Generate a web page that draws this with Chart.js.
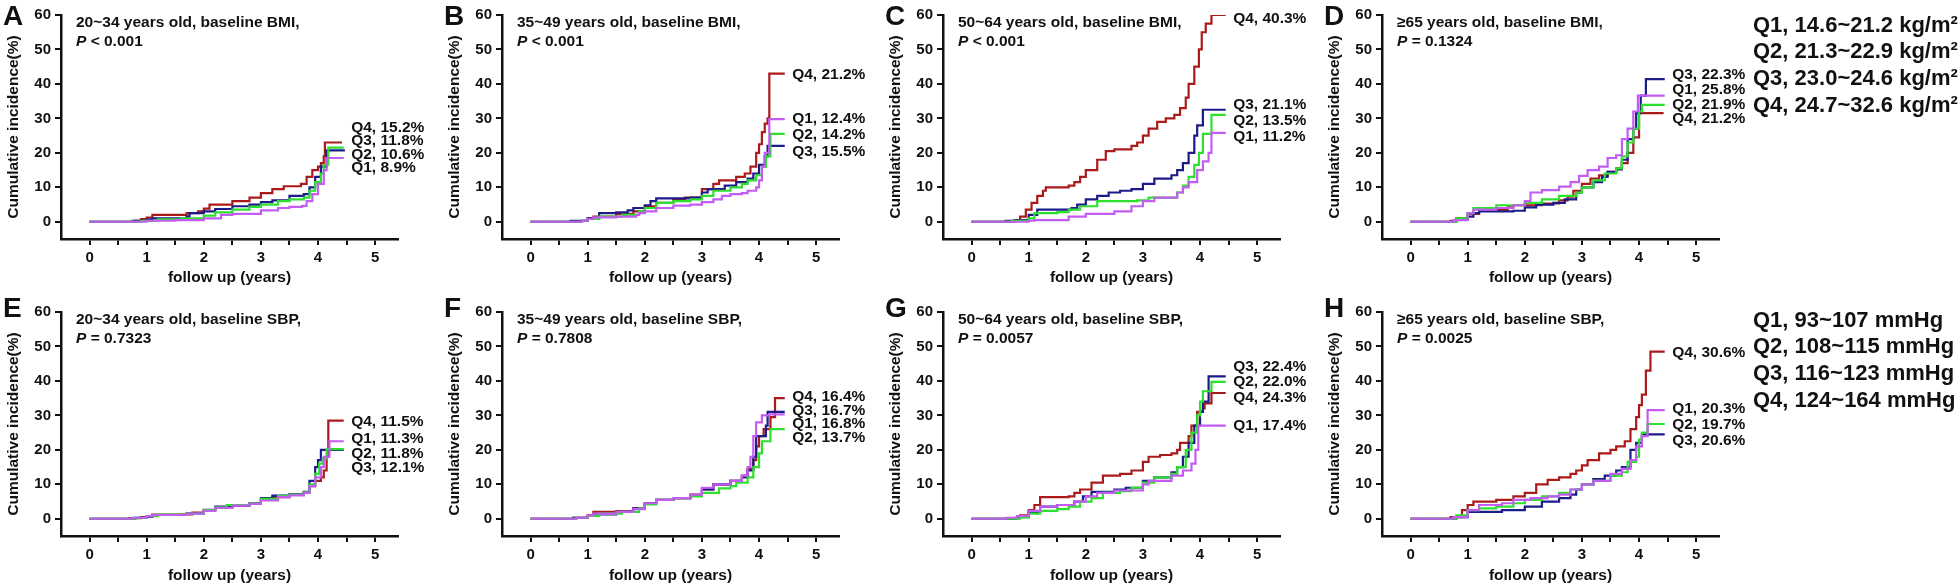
<!DOCTYPE html>
<html>
<head>
<meta charset="utf-8">
<title>Cumulative incidence by age group, baseline BMI and SBP</title>
<script src="https://cdn.jsdelivr.net/npm/chart.js@4.4.1/dist/chart.umd.min.js"></script>
<style>
  body { margin: 0; background: #fff; width: 1960px; height: 588px; position: relative; overflow: hidden; font-family: "Liberation Sans", Arial, sans-serif; }
  canvas { position: absolute; }
  .legend { position: absolute; left: 1753px; font-weight: bold; font-size: 22px; line-height: 26.7px; color: #111; white-space: nowrap; }
</style>
</head>
<body>
<script>
// ---- data ----
const quartiles = ['Q1', 'Q2', 'Q3', 'Q4'];
const xTickValues = [0, 0.5, 1, 1.5, 2, 2.5, 3, 3.5, 4, 4.5, 5];
const yTickValues = [0, 10, 20, 30, 40, 50, 60];

const panelLetters = ['A', 'B', 'C', 'D', 'E', 'F', 'G', 'H'];
const panelTitles = [
  '20~34 years old, baseline BMI,', '35~49 years old, baseline BMI,',
  '50~64 years old, baseline BMI,', '\u226565 years old, baseline BMI,',
  '20~34 years old, baseline SBP,', '35~49 years old, baseline SBP,',
  '50~64 years old, baseline SBP,', '\u226565 years old, baseline SBP,'
];
const pValues = ['< 0.001', '< 0.001', '< 0.001', '= 0.1324', '= 0.7323', '= 0.7808', '= 0.0057', '= 0.0025'];

const bmiRanges = ['14.6~21.2 kg/m\u00b2', '21.3~22.9 kg/m\u00b2', '23.0~24.6 kg/m\u00b2', '24.7~32.6 kg/m\u00b2'];
const sbpRanges = ['93~107 mmHg', '108~115 mmHg', '116~123 mmHg', '124~164 mmHg'];

// curves: [years, cumulative incidence %]
const A_Q1 = [[0,0],[1.0,0.3],[1.5,0.5],[2.0,1],[2.3,2],[2.5,2.3],[3.0,3.3],[3.3,4],[3.5,4.3],[3.72,4.6],[3.8,6],[3.9,8],[4.0,11],[4.1,15],[4.15,18.5],[4.45,18.5]];
const A_Q2 = [[0,0],[0.9,0.3],[1.2,0.7],[1.6,1],[2.0,1.8],[2.2,2.7],[2.5,3.5],[2.8,4.3],[3.0,5],[3.3,6],[3.5,6.5],[3.75,7],[3.85,9],[3.95,11.5],[4.05,14],[4.1,16.5],[4.18,21.5],[4.45,21.5]];
const A_Q3 = [[0,0],[0.8,0.3],[1.0,0.6],[1.1,1],[1.7,1.5],[1.75,2.5],[2.0,3],[2.2,3.7],[2.5,4.5],[2.8,5],[3.0,5.7],[3.2,6.2],[3.5,7.5],[3.75,8],[3.85,10],[3.95,13],[4.05,16],[4.15,20.7],[4.47,20.7]];
const A_Q4 = [[0,0],[0.75,0.3],[0.9,0.8],[1.0,1.2],[1.1,2],[1.7,2.5],[1.9,3],[2.0,3.8],[2.1,5],[2.5,6],[2.8,7],[3.0,8.3],[3.2,9.5],[3.4,10.3],[3.7,11],[3.8,13],[3.9,15],[4.0,16],[4.05,17],[4.1,19],[4.12,23],[4.42,23]];

const B_Q1 = [[0,0],[0.9,0.3],[1.0,0.8],[1.1,1.3],[1.5,1.5],[1.85,2],[1.9,2.5],[2.0,3],[2.2,4],[2.5,4.7],[2.8,5],[3.0,5.7],[3.2,6.5],[3.35,7.5],[3.5,8],[3.7,8.3],[3.8,9],[3.95,10],[4.0,12],[4.05,16],[4.1,20],[4.18,29.8],[4.45,29.8]];
const B_Q2 = [[0,0],[0.9,0.3],[1.0,0.8],[1.2,1.5],[1.6,2],[1.9,3],[2.0,4],[2.2,5.5],[2.5,6],[2.8,6.5],[3.0,7.5],[3.2,9],[3.5,10],[3.7,11],[3.8,12],[3.95,13.5],[4.05,16],[4.12,19],[4.2,25.5],[4.45,25.5]];
const B_Q3 = [[0,0],[0.7,0.3],[1.0,1],[1.2,2.5],[1.5,2.7],[1.7,3.3],[1.8,4],[2.0,4.8],[2.1,6],[2.2,6.8],[2.8,7],[3.0,8.5],[3.1,9.5],[3.4,10.5],[3.6,11.5],[3.8,12.5],[3.9,14],[4.0,16.5],[4.1,19],[4.15,22],[4.45,22]];
const B_Q4 = [[0,0],[0.9,0.3],[1.0,1],[1.1,1.5],[1.5,2.3],[1.8,3],[2.0,4.5],[2.2,5.5],[2.5,6.5],[2.7,7],[3.0,9.5],[3.2,11],[3.3,12],[3.6,13],[3.75,14],[3.85,16],[3.95,20],[4.0,22.5],[4.05,26],[4.1,28.5],[4.15,30],[4.18,43],[4.45,43]];

const C_Q1 = [[0,0],[1.0,0.3],[1.1,0.5],[1.7,1.5],[2.0,2.3],[2.5,3],[2.8,4.5],[3.0,6],[3.2,7],[3.6,8.5],[3.7,10],[3.8,11.5],[3.95,15],[4.05,17.5],[4.15,20],[4.2,25.8],[4.45,25.8]];
const C_Q2 = [[0,0],[0.7,0.3],[1.0,1],[1.1,2.5],[1.5,2.8],[1.7,3.5],[1.9,4.5],[2.2,6],[2.9,6.2],[3.1,7],[3.6,8.5],[3.7,10.5],[3.8,13],[3.9,16.5],[3.98,20],[4.05,25.5],[4.2,31],[4.45,31]];
const C_Q3 = [[0,0],[0.6,0.3],[0.8,0.5],[1.0,2],[1.15,3.5],[1.75,4],[1.85,5],[2.0,6.5],[2.2,7.5],[2.4,8.5],[2.6,9],[2.8,9.5],[3.0,11],[3.2,12.5],[3.5,13.5],[3.6,15],[3.7,17],[3.8,20],[3.9,25],[3.95,28],[4.05,32.5],[4.45,32.5]];
const C_Q4 = [[0,0],[0.75,0.5],[0.85,1.5],[0.95,3.5],[1.05,5.5],[1.15,7.5],[1.25,9],[1.3,10],[1.7,10.5],[1.8,11.5],[1.9,13],[2.0,15],[2.2,18],[2.35,20.5],[2.5,21],[2.8,22],[2.9,23],[3.0,25],[3.1,27],[3.25,29],[3.4,30],[3.55,31],[3.65,33],[3.75,36],[3.8,40],[3.9,45],[3.98,50],[4.03,55],[4.1,57.5],[4.2,60],[4.45,60]];

const D_Q1 = [[0,0],[0.75,0.5],[1.0,2.5],[1.1,3.5],[1.5,4],[1.8,4.8],[2.0,6],[2.1,8.5],[2.3,9.2],[2.6,10.2],[2.8,11.5],[2.95,13.3],[3.1,15],[3.3,16],[3.45,18.5],[3.6,19.3],[3.7,24],[3.8,27],[3.9,32],[3.98,36.6],[4.45,36.6]];
const D_Q2 = [[0,0],[0.8,1],[1.0,2.5],[1.1,4],[1.5,4.8],[2.0,5.5],[2.3,6.5],[2.6,7.5],[2.9,8.5],[3.0,10],[3.2,12],[3.4,14],[3.6,15.5],[3.7,19],[3.8,23],[3.9,27],[4.0,32],[4.05,33.9],[4.45,33.9]];
const D_Q3 = [[0,0],[0.8,0.8],[1.0,1.5],[1.1,2.5],[1.2,3],[1.8,3.2],[2.0,4.2],[2.2,5],[2.5,5.5],[2.7,6.5],[2.9,8.5],[3.0,10],[3.2,11.5],[3.35,13],[3.45,14.5],[3.6,15.2],[3.7,18],[3.8,24],[3.9,27],[3.95,31.5],[4.03,36.6],[4.12,41.4],[4.45,41.4]];
const D_Q4 = [[0,0],[0.7,0.3],[0.8,1],[1.0,2.3],[1.2,3.5],[1.7,4.2],[1.8,4.8],[2.3,5.3],[2.6,6.2],[2.75,7.3],[2.85,9],[3.0,11],[3.15,12.5],[3.3,13.5],[3.45,14.5],[3.6,15.5],[3.7,17],[3.8,20],[3.9,24.5],[4.0,31.5],[4.43,31.5]];

const E_Q1 = [[0,0],[0.75,0.3],[1.0,0.8],[1.1,1.1],[1.7,1.5],[2.0,2.3],[2.2,3.2],[2.5,3.8],[2.8,4.3],[3.0,5.3],[3.3,6.3],[3.5,6.8],[3.75,7.5],[3.85,9.5],[3.95,12],[4.05,15],[4.1,18],[4.2,22.5],[4.45,22.5]];
const E_Q2 = [[0,0],[0.8,0.3],[1.0,0.8],[1.2,1.2],[1.7,1.5],[2.0,2.5],[2.2,3.3],[2.4,4],[2.8,4.5],[3.0,5.8],[3.3,6.6],[3.5,7],[3.75,7.7],[3.85,10],[3.95,13],[4.02,16],[4.08,17.5],[4.15,20.2],[4.45,20.2]];
const E_Q3 = [[0,0],[0.8,0.3],[1.0,0.6],[1.1,1.1],[1.7,1.6],[2.0,2.6],[2.2,3.5],[2.5,3.9],[2.8,4.5],[3.0,6],[3.2,6.7],[3.5,7.1],[3.75,7.8],[3.85,11],[3.95,15],[4.0,17],[4.05,20],[4.45,20]];
const E_Q4 = [[0,0],[0.7,0.2],[0.9,0.5],[1.0,0.8],[1.1,1.2],[1.6,1.3],[1.8,1.8],[2.0,2.5],[2.2,3.3],[2.5,3.8],[2.8,4.5],[3.0,5.5],[3.2,6.3],[3.5,7],[3.75,7.5],[3.85,9.5],[3.95,11],[4.05,12],[4.1,14],[4.15,18],[4.18,28.5],[4.45,28.5]];

const F_Q1 = [[0,0],[0.8,0.3],[1.0,1],[1.1,1.5],[1.5,2],[1.8,2.8],[2.0,4.5],[2.2,5.5],[2.5,6],[2.8,7],[3.0,9],[3.2,10],[3.5,11],[3.7,12.5],[3.8,15],[3.85,18],[3.9,24],[3.95,28],[4.05,30],[4.18,30.3],[4.45,30.3]];
const F_Q2 = [[0,0],[0.8,0.3],[1.0,0.8],[1.2,1.5],[1.6,2],[1.9,3],[2.0,4.2],[2.2,5.5],[2.5,6],[2.8,6.5],[3.0,7.5],[3.3,8.8],[3.5,9.5],[3.6,10.5],[3.8,12],[3.9,15],[4.0,19],[4.05,22.5],[4.2,26],[4.45,26]];
const F_Q3 = [[0,0],[0.75,0.3],[1.0,0.8],[1.1,1.3],[1.5,2],[1.8,3],[2.0,4.5],[2.2,5.5],[2.5,6],[2.8,6.8],[3.0,8.5],[3.2,10],[3.5,11],[3.7,12],[3.8,14],[3.9,18],[3.95,24],[4.08,24],[4.12,27],[4.15,31],[4.45,31]];
const F_Q4 = [[0,0],[0.75,0.3],[1.0,1],[1.1,2],[1.5,2.2],[1.8,3],[2.0,4.5],[2.2,5.5],[2.5,6],[2.8,7],[3.0,8.5],[3.2,10],[3.5,11],[3.7,12.5],[3.8,14.5],[3.9,17],[3.95,21],[4.0,24],[4.08,26],[4.2,29.5],[4.28,35],[4.45,35]];

const G_Q1 = [[0,0],[0.6,0.3],[0.8,0.8],[1.0,2.3],[1.2,3.5],[1.5,4],[1.8,5],[2.0,6.5],[2.2,7.5],[2.5,8.2],[3.0,10],[3.1,11],[3.5,12.5],[3.7,14],[3.85,16],[3.92,20],[3.97,27],[4.45,27]];
const G_Q2 = [[0,0],[0.85,0.5],[1.0,1.5],[1.2,2.3],[1.5,2.8],[1.7,3.5],[1.9,5],[2.1,6],[2.3,7.5],[2.6,8],[2.8,9],[3.0,10.5],[3.2,12],[3.5,13],[3.6,15],[3.75,20],[3.85,25],[3.95,30],[4.0,34],[4.05,37],[4.2,39.7],[4.45,39.7]];
const G_Q3 = [[0,0],[0.8,0.5],[1.0,2],[1.2,3.5],[1.5,4],[1.8,5],[1.95,6.5],[2.1,7.8],[2.5,8.5],[2.7,9],[3.0,11],[3.2,12],[3.5,13.5],[3.6,15],[3.7,18],[3.8,22],[3.9,27],[4.0,31],[4.05,34],[4.15,41.3],[4.45,41.3]];
const G_Q4 = [[0,0],[0.75,0.3],[0.85,1],[1.0,2.5],[1.1,4],[1.2,6.3],[1.7,6.5],[1.8,7.5],[1.9,8.5],[2.1,10.5],[2.3,12.5],[2.6,13],[2.8,14],[3.0,16.5],[3.1,18],[3.3,18.5],[3.5,19],[3.6,20],[3.65,22],[3.8,24],[3.85,27],[3.95,31],[4.05,32],[4.08,33.5],[4.2,36.5],[4.45,36.5]];

const H_Q1 = [[0,0],[0.75,0.5],[1.0,2.5],[1.2,4],[1.6,4.5],[1.8,5.5],[2.1,6],[2.4,6.5],[2.6,7],[2.8,8.5],[3.0,10],[3.2,11],[3.5,13],[3.7,14.5],[3.85,17],[3.95,21],[4.05,24],[4.15,31.5],[4.45,31.5]];
const H_Q2 = [[0,0],[0.8,1],[1.0,2.5],[1.2,3],[1.5,3.5],[1.8,4.5],[2.0,5.5],[2.3,6.5],[2.6,7.5],[2.8,8.5],[3.0,10],[3.2,11],[3.5,12.5],[3.7,13.5],[3.8,16.5],[3.95,18],[4.0,23],[4.05,25],[4.15,27.5],[4.45,27.5]];
const H_Q3 = [[0,0],[0.8,0.5],[1.0,2],[1.6,2.5],[2.0,3.5],[2.3,5],[2.6,6],[2.8,7],[2.9,8.5],[3.0,10],[3.2,11.5],[3.4,12.5],[3.6,14],[3.7,15],[3.85,20],[3.95,22],[4.05,24.5],[4.45,24.5]];
const H_Q4 = [[0,0],[0.7,0.5],[0.9,2.5],[1.0,4],[1.1,5],[1.5,5.5],[1.8,6.5],[2.0,7.5],[2.2,10],[2.4,11.3],[2.6,12],[2.8,13],[2.9,14],[3.0,15.5],[3.1,17],[3.3,19],[3.5,20],[3.6,21],[3.75,22.5],[3.85,26],[3.95,29.5],[4.0,33],[4.05,36],[4.12,43],[4.2,48.5],[4.45,48.5]];

const panelCurves = [
  [A_Q1, A_Q2, A_Q3, A_Q4], [B_Q1, B_Q2, B_Q3, B_Q4], [C_Q1, C_Q2, C_Q3, C_Q4], [D_Q1, D_Q2, D_Q3, D_Q4],
  [E_Q1, E_Q2, E_Q3, E_Q4], [F_Q1, F_Q2, F_Q3, F_Q4], [G_Q1, G_Q2, G_Q3, G_Q4], [H_Q1, H_Q2, H_Q3, H_Q4]
];

// end-of-curve percentages (Q1..Q4) and where their labels sit on the y scale
const endPercents = [
  ['8.9%', '10.6%', '11.8%', '15.2%'], ['12.4%', '14.2%', '15.5%', '21.2%'],
  ['11.2%', '13.5%', '21.1%', '40.3%'], ['25.8%', '21.9%', '22.3%', '21.2%'],
  ['11.3%', '11.8%', '12.1%', '11.5%'], ['16.8%', '13.7%', '16.7%', '16.4%'],
  ['17.4%', '22.0%', '22.4%', '24.3%'], ['20.3%', '19.7%', '20.6%', '30.6%']
];
const endLabelY = [
  [15.7, 19.6, 23.4, 27.3], [29.8, 25.2, 20.3, 42.6], [24.7, 29.2, 34, 59], [38.4, 34.1, 42.6, 30],
  [23.3, 18.9, 14.9, 28.2], [27.5, 23.6, 31.4, 35.4], [27, 39.8, 44, 35.2], [31.8, 27.2, 22.6, 48.3]
];
const endLabelX = 4.58;

// ---- styling ----
const FONT = '"Liberation Sans", Arial, sans-serif';
const INK = '#111';
const lineColors = ['#C35CF2', '#2EE02E', '#1B1B8A', '#AA1A1A'];
const panelLefts = [0, 441, 882, 1321];
const rows = [
  { top: 0, padTop: 15, axisH: 55, titlePad: 7, letterY: 25 },
  { top: 294, padTop: 18, axisH: 52, titlePad: 3, letterY: 23 }
];

const panelText = {
  id: 'panelText',
  afterDraw(chart, args, opts) {
    const { ctx, chartArea, scales } = chart;
    ctx.save();
    ctx.fillStyle = INK;
    ctx.textAlign = 'left';
    ctx.textBaseline = 'alphabetic';
    ctx.font = 'bold 28px ' + FONT;
    ctx.fillText(opts.letter, 3, opts.letterY);

    ctx.textBaseline = 'middle';
    const tx = chartArea.left + 15;
    ctx.font = 'bold 15.5px ' + FONT;
    ctx.fillText(opts.title, tx, chartArea.top + 8);
    ctx.font = 'italic bold 15.5px ' + FONT;
    ctx.fillText('P', tx, chartArea.top + 27);
    const pw = ctx.measureText('P').width;
    ctx.font = 'bold 15.5px ' + FONT;
    ctx.fillText(' ' + opts.p, tx + pw, chartArea.top + 27);

    const lx = scales.x.getPixelForValue(endLabelX);
    opts.labels.forEach((lab) => {
      ctx.fillText(lab.text, lx, scales.y.getPixelForValue(lab.y));
    });
    ctx.restore();
  }
};

function makePanel(i) {
  const row = rows[Math.floor(i / 4)];
  const canvas = document.createElement('canvas');
  canvas.width = 441;
  canvas.height = 294;
  canvas.style.left = panelLefts[i % 4] + 'px';
  canvas.style.top = row.top + 'px';
  document.body.appendChild(canvas);

  const datasets = panelCurves[i].map((curve, q) => ({
    label: quartiles[q],
    data: curve.map(([t, v]) => ({ x: t, y: v })),
    borderColor: lineColors[q],
    borderWidth: 2.2,
    stepped: true,
    pointRadius: 0,
    fill: false
  }));

  const labels = quartiles.map((q, k) => ({ text: q + ', ' + endPercents[i][k], y: endLabelY[i][k] }));

  new Chart(canvas, {
    type: 'line',
    data: { datasets },
    plugins: [panelText],
    options: {
      responsive: false,
      animation: false,
      devicePixelRatio: 1,
      layout: { padding: { top: row.padTop, right: 43, bottom: 0, left: 0 } },
      plugins: {
        legend: { display: false },
        tooltip: { enabled: false },
        panelText: { letter: panelLetters[i], letterY: row.letterY, title: panelTitles[i], p: pValues[i], labels }
      },
      scales: {
        x: {
          type: 'linear',
          min: -0.5,
          max: 5.4,
          afterBuildTicks: (s) => { s.ticks = xTickValues.map((v) => ({ value: v })); },
          afterFit: (s) => { s.height = row.axisH; },
          ticks: {
            color: INK,
            font: { family: FONT, size: 15, weight: 'bold' },
            padding: 4,
            maxRotation: 0,
            autoSkip: false,
            callback: (v) => (Number.isInteger(v) ? String(v) : '')
          },
          grid: { drawOnChartArea: false, drawTicks: true, tickLength: 6, color: INK, lineWidth: 2 },
          border: { display: true, color: INK, width: 2.5 },
          title: {
            display: true,
            text: 'follow up (years)',
            color: INK,
            font: { family: FONT, size: 15.5, weight: 'bold' },
            padding: { top: 0, bottom: row.titlePad }
          }
        },
        y: {
          type: 'linear',
          min: -5,
          max: 60,
          afterBuildTicks: (s) => { s.ticks = yTickValues.map((v) => ({ value: v })); },
          afterFit: (s) => { s.width = 61; },
          ticks: {
            color: INK,
            font: { family: FONT, size: 15, weight: 'bold' },
            padding: 4,
            autoSkip: false,
            callback: (v) => String(v)
          },
          grid: { drawOnChartArea: false, drawTicks: true, tickLength: 6, color: INK, lineWidth: 2 },
          border: { display: true, color: INK, width: 2.5 },
          title: {
            display: true,
            text: 'Cumulative incidence(%)',
            color: INK,
            font: { family: FONT, size: 15.5, weight: 'bold' },
            padding: { top: 4, bottom: 0 }
          }
        }
      }
    }
  });
}

for (let i = 0; i < 8; i++) makePanel(i);

function makeLegend(ranges, top) {
  const div = document.createElement('div');
  div.className = 'legend';
  div.style.top = top + 'px';
  div.innerHTML = ranges.map((r, k) => quartiles[k] + ', ' + r).join('<br>');
  document.body.appendChild(div);
}
makeLegend(bmiRanges, 11.5);
makeLegend(sbpRanges, 306.5);
</script>
</body>
</html>
